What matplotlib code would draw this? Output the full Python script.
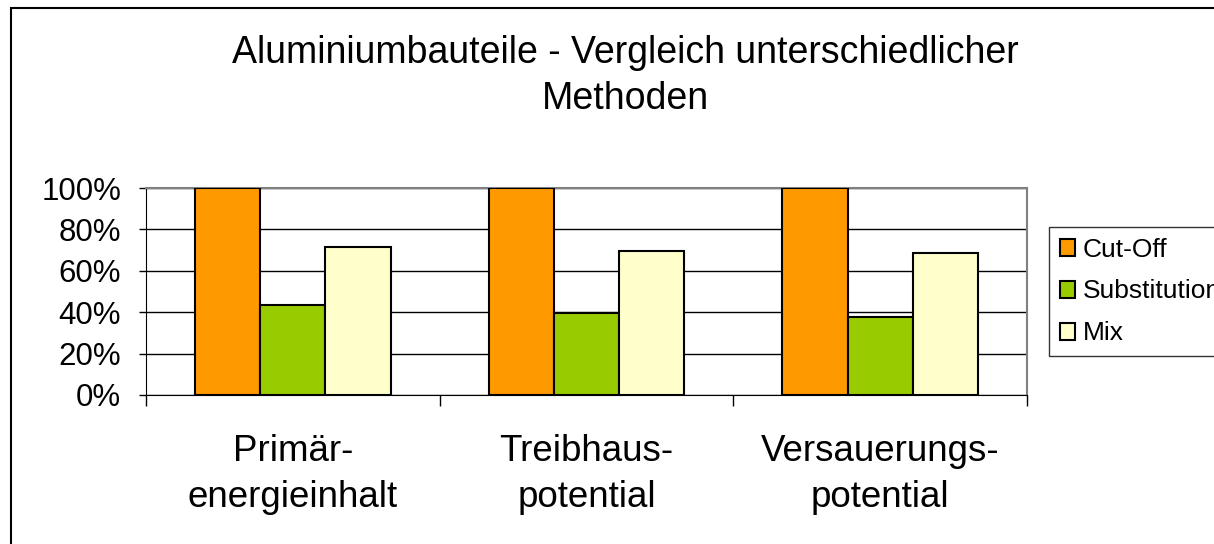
import numpy as np
import matplotlib
matplotlib.use('Agg')
import matplotlib.pyplot as plt
from matplotlib.patches import Rectangle
from matplotlib.ticker import FuncFormatter

plt.rcParams['font.family'] = ['Liberation Sans', 'DejaVu Sans']

categories = ['Primär-\nenergieinhalt', 'Treibhaus-\npotential', 'Versauerungs-\npotential']
series = ['Cut-Off', 'Substitution', 'Mix']
cut_off = [100, 100, 100]
substitution = [43.5, 39.5, 37.8]
mix = [71.5, 69.5, 68.8]
colours = ['#FF9900', '#99CC00', '#FFFFCC']
y_ticks = [0, 20, 40, 60, 80, 100]

W, H = 1214, 544
fig = plt.figure(figsize=(W / 100, H / 100), dpi=100)
ax = fig.add_axes([146 / W, 1 - 395 / H, (1027 - 146) / W, (395 - 188) / H])

x = np.arange(len(categories))
width = 1 / 4.5
bars = []
for i, (vals, col) in enumerate(zip([cut_off, substitution, mix], colours)):
    b = ax.bar(x + (i - 1) * width, vals, width, color=col, edgecolor='black',
               linewidth=1.5, label=series[i], zorder=3)
    bars.append(b)

ax.set_xlim(-0.5, 2.5)
ax.set_ylim(0, 100)
ax.set_yticks(y_ticks)
ax.yaxis.set_major_formatter(FuncFormatter(lambda v, p: f'{v:.0f}%'))
ax.tick_params(axis='y', labelsize=22.5, length=5, width=1, direction='out', pad=13)
ax.grid(axis='y', color='black', linewidth=1, zorder=0)

# category labels centred, separator ticks between groups
ax.set_xticks(x)
ax.set_xticklabels(categories, fontsize=26.5, linespacing=1.42)
ax.tick_params(axis='x', which='major', length=0, pad=28)
ax.set_xticks([-0.5, 0.5, 1.5, 2.5], minor=True)
ax.tick_params(axis='x', which='minor', length=8, width=1, direction='out')

for s in ['top', 'right']:
    ax.spines[s].set_color('#808080')
    ax.spines[s].set_linewidth(1.5)
ax.spines['left'].set_color('black')
ax.spines['bottom'].set_color('black')

fig.text(625 / W, 1 - 35 / H, 'Aluminiumbauteile - Vergleich unterschiedlicher\nMethoden',
         ha='center', va='top', fontsize=27, linespacing=1.36)

leg = fig.legend(handles=bars, labels=series, loc='upper left',
                 bbox_to_anchor=(1049 / W, 1 - 227 / H), borderaxespad=0,
                 fontsize=19, frameon=True, fancybox=False, handlelength=0.6,
                 handleheight=0.6, handletextpad=0.27, labelspacing=0.68,
                 borderpad=0.4)
leg.get_frame().set_edgecolor('black')
leg.get_frame().set_linewidth(1)

fig.patches.append(Rectangle((11 / W, -0.1), 2, 1.1 - 8 / H, transform=fig.transFigure,
                             fill=False, edgecolor='black', linewidth=1.5))

fig.savefig('out.png', dpi=100)
